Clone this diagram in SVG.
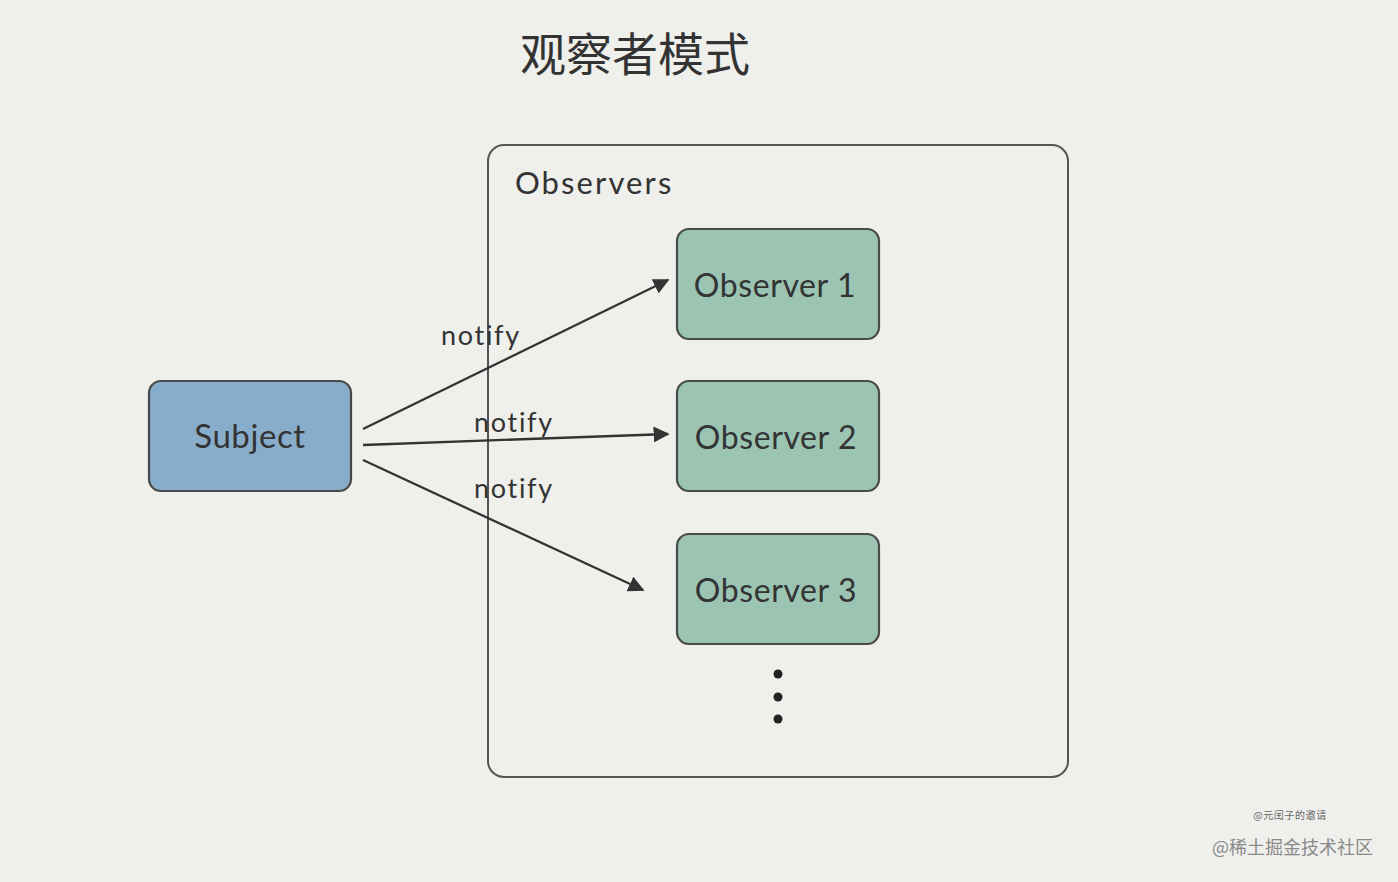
<svg xmlns="http://www.w3.org/2000/svg" width="1398" height="882" viewBox="0 0 1398 882">
<style>
.bg{fill:#efefec}
.box{stroke:#4a4a4a;stroke-width:2.2}
.subj{fill:#88adcb}
.obs{fill:#9bc4b3}
.lbl{font-family:Lato,"Noto Sans",sans-serif;fill:#333;text-anchor:middle;letter-spacing:0.6px}
.edge{stroke:#333;stroke-width:2.3;fill:none}
.note{font-family:Lato,"Noto Sans",sans-serif;fill:#333;font-size:27px;letter-spacing:1.7px}
</style>
<defs>
<marker id="ah" viewBox="0 0 10 10" refX="9" refY="5" markerWidth="16" markerHeight="16" markerUnits="userSpaceOnUse" orient="auto">
<path d="M0,0 L10,5 L0,10 z" fill="#333"/>
</marker>
</defs>
<rect class="bg" x="0" y="0" width="1398" height="882"/>
<text x="635" y="71" font-family="'Noto Sans CJK SC',sans-serif" font-size="46" fill="#333" text-anchor="middle">观察者模式</text>
<g id="observers-group">
<rect x="488" y="145" width="580" height="632" rx="16" fill="none" stroke="#555" stroke-width="2"/>
<text x="515" y="194" font-family="Lato,'Noto Sans',sans-serif" font-size="31" fill="#333" letter-spacing="2.1">Observers</text>
</g>
<g id="subject">
<rect class="box subj" x="149" y="381" width="202" height="110" rx="12"/>
<text class="lbl" x="250" y="448" font-size="33" letter-spacing="1.5">Subject</text>
</g>
<g id="observer1">
<rect class="box obs" x="677" y="229" width="202" height="110" rx="12"/>
<text class="lbl" x="775" y="297" font-size="32">Observer 1</text>
</g>
<g id="observer2">
<rect class="box obs" x="677" y="381" width="202" height="110" rx="12"/>
<text class="lbl" x="776" y="449" font-size="32">Observer 2</text>
</g>
<g id="observer3">
<rect class="box obs" x="677" y="534" width="202" height="110" rx="12"/>
<text class="lbl" x="776" y="602" font-size="32">Observer 3</text>
</g>
<g id="more">
<circle cx="778" cy="674" r="4.5" fill="#222"/>
<circle cx="778" cy="697" r="4.5" fill="#222"/>
<circle cx="778" cy="719" r="4.5" fill="#222"/>
</g>
<g id="connectors">
<path class="edge" d="M363,429 L668,280" marker-end="url(#ah)"/>
<path class="edge" d="M363,445 L668,434" marker-end="url(#ah)"/>
<path class="edge" d="M363,460 L643,590" marker-end="url(#ah)"/>
<text class="note" x="441" y="345">notify</text>
<text class="note" x="474" y="432">notify</text>
<text class="note" x="474" y="498">notify</text>
</g>
<text x="1290" y="819" font-family="'Noto Sans CJK SC',sans-serif" font-size="10" fill="#666" text-anchor="middle" letter-spacing="0.6">@元闰子的邀请</text>
<text x="1373" y="854" font-family="'Noto Sans CJK SC',sans-serif" font-size="18" fill="#8a8a8a" text-anchor="end">@稀土掘金技术社区</text>
</svg>
